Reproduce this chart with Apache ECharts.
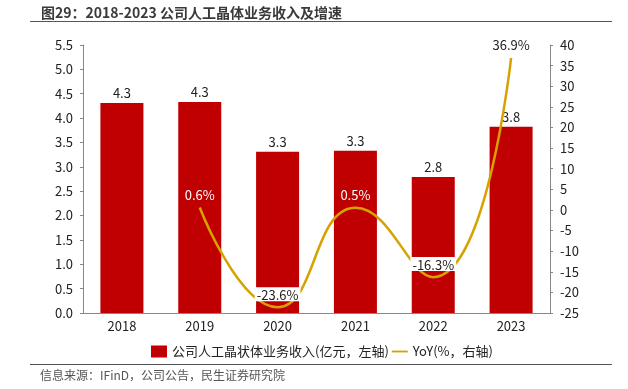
<!DOCTYPE html>
<html><head><meta charset="utf-8">
<script src="https://cdn.jsdelivr.net/npm/echarts@6/dist/echarts.min.js"></script>
<style>html,body{margin:0;padding:0;background:#fff}#c{width:628px;height:389px}</style>
</head><body><div id="c"></div>
<script>
const categories = ['2018','2019','2020','2021','2022','2023'];
const revenue = [4.31, 4.33, 3.31, 3.33, 2.79, 3.82];
const revenueLabels = ['4.3','4.3','3.3','3.3','2.8','3.8'];
const yoy = [null, 0.6, -23.6, 0.5, -16.3, 36.9];
const leftTicks = [0, 5.5, 0.5];
const rightTicks = [-25, 40, 5];
const revenueName = '公司人工晶状体业务收入(亿元，左轴)';
const yoyName = 'YoY(%，右轴)';
const titleText = '图29：2018-2023 公司人工晶体业务收入及增速';
const sourceText = '信息来源：IFinD，公司公告，民生证券研究院';

const FONT = '"Noto Sans CJK SC", "Noto Sans", sans-serif';
const chart = echarts.init(document.getElementById('c'));
const whiteLabelIdx = {1: true, 3: true};
const LINE_COLOR = '#D6A200';
chart.setOption({
  animation: false,
  textStyle: {fontFamily: FONT},
  title: {text: titleText, left: 36, top: 1,
    textStyle: {fontSize: 14, fontWeight: 'bold', color: '#3a3a3a', fontFamily: FONT}},
  graphic: [
    {type: 'line', shape: {x1: 30, y1: 21.5, x2: 612, y2: 21.5}, style: {stroke: '#555', lineWidth: 1.2}},
    {type: 'line', shape: {x1: 30, y1: 364.5, x2: 612, y2: 364.5}, style: {stroke: '#555', lineWidth: 1}},
    {type: 'text', left: 40, top: 369, style: {text: sourceText, fill: '#555', font: '12px ' + FONT}}
  ],
  legend: {
    bottom: 26, left: 146, itemGap: 3, itemWidth: 16, itemHeight: 12,
    textStyle: {fontSize: 13, color: '#222', fontFamily: FONT},
    data: [{name: revenueName, icon: 'rect'},
           {name: yoyName, icon: 'path://M0,0 L26,0 L26,3 L0,3 Z', itemStyle: {color: LINE_COLOR}}]
  },
  grid: {left: 83, right: 78, top: 45, bottom: 76},
  xAxis: {
    type: 'category', data: categories,
    axisLine: {lineStyle: {color: '#888'}},
    axisTick: {show: false},
    axisLabel: {color: '#222', fontSize: 13, margin: 7}
  },
  yAxis: [
    {type: 'value', min: leftTicks[0], max: leftTicks[1], interval: leftTicks[2],
     splitLine: {show: false},
     axisLine: {show: true, lineStyle: {color: '#888'}},
     axisTick: {show: true, length: 3, lineStyle: {color: '#888'}},
     axisLabel: {color: '#222', fontSize: 13, margin: 10, formatter: v => v.toFixed(1)}},
    {type: 'value', min: rightTicks[0], max: rightTicks[1], interval: rightTicks[2],
     splitLine: {show: false},
     axisLine: {show: true, lineStyle: {color: '#888'}},
     axisTick: {show: true, length: 3, lineStyle: {color: '#888'}},
     axisLabel: {color: '#222', fontSize: 13, margin: 10}}
  ],
  series: [
    {name: revenueName, type: 'bar', data: revenue, barWidth: 43,
     itemStyle: {color: '#C00000'},
     label: {show: true, position: 'top', color: '#222', fontSize: 13, distance: 3,
       formatter: p => revenueLabels[p.dataIndex]}},
    {name: yoyName, type: 'line', yAxisIndex: 1, data: yoy, smooth: 0.5,
     symbol: 'none', lineStyle: {color: LINE_COLOR, width: 2.5}, itemStyle: {color: LINE_COLOR}},
    {name: 'yoyLabels', type: 'scatter', yAxisIndex: 1, symbolSize: 0.01, silent: true, z: 5,
     itemStyle: {color: LINE_COLOR, opacity: 1},
     emphasis: {disabled: true},
     label: {show: true, position: 'top', fontSize: 13, distance: 6, opacity: 1,
       formatter: p => p.value == null ? '' : p.value.toFixed(1) + '%'},
     data: yoy.map((v, i) => {
       if (v == null) return null;
       if (whiteLabelIdx[i]) return {value: v, label: {color: '#fff'}};
       if (v < 0) return {value: v, label: {color: '#222', backgroundColor: '#ffffff', padding: [1, 2, 0, 2]}};
       return {value: v, label: {color: '#222'}};
     })}
  ]
});
</script></body></html>
